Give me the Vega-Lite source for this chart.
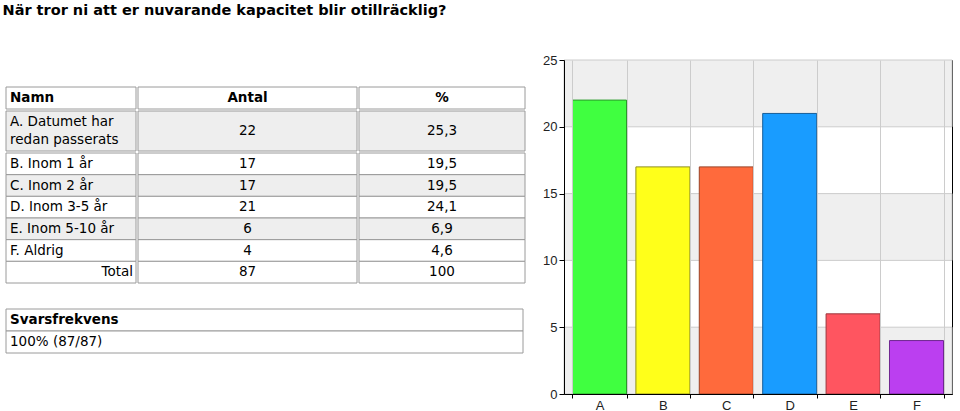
{
  "$schema": "https://vega.github.io/schema/vega-lite/v6.json",
  "background": "white",
  "padding": {"left": 2, "top": 3, "right": 0, "bottom": 0},
  "title": {"text": "När tror ni att er nuvarande kapacitet blir otillräcklig?", "anchor": "start", "font": "DejaVu Sans", "fontSize": 14.5, "fontWeight": "bold", "color": "#000000", "offset": 35, "dx": -3},
  "datasets": {
    "svar": [
      {"letter": "A", "namn": ["A. Datumet har", "redan passerats"], "antal": 22, "pct": "25,3"},
      {"letter": "B", "namn": "B. Inom 1 år", "antal": 17, "pct": "19,5"},
      {"letter": "C", "namn": "C. Inom 2 år", "antal": 17, "pct": "19,5"},
      {"letter": "D", "namn": "D. Inom 3-5 år", "antal": 21, "pct": "24,1"},
      {"letter": "E", "namn": "E. Inom 5-10 år", "antal": 6, "pct": "6,9"},
      {"letter": "F", "namn": "F. Aldrig", "antal": 4, "pct": "4,6"},
      {"letter": "Total", "namn": "Total", "antal": 87, "pct": "100"}
    ],
    "kolumner": [{"namn": "Namn", "antal": "Antal", "pct": "%"}],
    "svarsfrekvens": [{"rad": "Svarsfrekvens"}, {"rad": "100% (87/87)"}],
    "band": [{"fran": 0, "till": 5}, {"fran": 10, "till": 15}, {"fran": 20, "till": 25}]
  },
  "spacing": 16,
  "hconcat": [
    {
      "spacing": 0,
      "vconcat": [
        {
          "width": 518, "height": 26,
          "data": {"values": [{"s": 1}]},
          "mark": {"type": "rect", "fill": "#ffffff", "strokeWidth": 0},
          "encoding": {
            "x": {"datum": "c", "type": "nominal", "axis": null, "scale": {"paddingInner": 0, "paddingOuter": 0}},
            "y": {"datum": "r", "type": "nominal", "axis": null, "scale": {"paddingInner": 0, "paddingOuter": 0}}
          }
        },
        {
          "spacing": 0,
          "hconcat": [
            {
              "width": 130, "height": 22, "data": {"name": "kolumner"},
              "encoding": {"y": {"datum": "r", "type": "nominal", "axis": null, "scale": {"paddingInner": 0, "paddingOuter": 0}}},
              "layer": [
                {"mark": {"type": "rect", "fill": "#ffffff", "stroke": "#9a9a9a", "strokeWidth": 1},
                 "encoding": {"x": {"datum": "c", "type": "nominal", "axis": null, "scale": {"paddingInner": 0, "paddingOuter": 0}}}},
                {"mark": {"type": "text", "align": "left", "baseline": "middle", "dx": 4, "font": "DejaVu Sans", "fontSize": 13.5, "fontWeight": "bold", "color": "#000000"},
                 "encoding": {"x": {"datum": "c", "type": "nominal", "bandPosition": 0}, "text": {"field": "namn"}}}
              ]
            },
            {
              "width": 219, "height": 22, "data": {"name": "kolumner"},
              "encoding": {"y": {"datum": "r", "type": "nominal", "axis": null, "scale": {"paddingInner": 0, "paddingOuter": 0}}},
              "layer": [
                {"mark": {"type": "rect", "fill": "#ffffff", "stroke": "#9a9a9a", "strokeWidth": 1},
                 "encoding": {"x": {"datum": "c", "type": "nominal", "axis": null, "scale": {"paddingInner": 0, "paddingOuter": 0}}}},
                {"mark": {"type": "text", "align": "center", "baseline": "middle", "font": "DejaVu Sans", "fontSize": 13.5, "fontWeight": "bold", "color": "#000000"},
                 "encoding": {"x": {"datum": "c", "type": "nominal"}, "text": {"field": "antal"}}}
              ]
            },
            {
              "width": 166, "height": 22, "data": {"name": "kolumner"},
              "encoding": {"y": {"datum": "r", "type": "nominal", "axis": null, "scale": {"paddingInner": 0, "paddingOuter": 0}}},
              "layer": [
                {"mark": {"type": "rect", "fill": "#ffffff", "stroke": "#9a9a9a", "strokeWidth": 1},
                 "encoding": {"x": {"datum": "c", "type": "nominal", "axis": null, "scale": {"paddingInner": 0, "paddingOuter": 0}}}},
                {"mark": {"type": "text", "align": "center", "baseline": "middle", "font": "DejaVu Sans", "fontSize": 13.5, "fontWeight": "bold", "color": "#000000"},
                 "encoding": {"x": {"datum": "c", "type": "nominal"}, "text": {"field": "pct"}}}
              ]
            }
          ]
        },
        {
          "spacing": 0,
          "hconcat": [
            {
              "width": 130, "height": 40, "data": {"name": "svar"},
              "transform": [{"filter": "datum.letter === 'A'"}],
              "encoding": {"y": {"field": "letter", "type": "nominal", "axis": null, "scale": {"paddingInner": 0, "paddingOuter": 0}}},
              "layer": [
                {"mark": {"type": "rect", "fill": "#eeeeee", "stroke": "#9a9a9a", "strokeWidth": 1},
                 "encoding": {"x": {"datum": "c", "type": "nominal", "axis": null, "scale": {"paddingInner": 0, "paddingOuter": 0}}}},
                {"mark": {"type": "text", "align": "left", "baseline": "middle", "dx": 4, "dy": -9, "lineHeight": 18, "font": "DejaVu Sans", "fontSize": 13.5, "color": "#000000"},
                 "encoding": {"x": {"datum": "c", "type": "nominal", "bandPosition": 0}, "text": {"field": "namn"}}}
              ]
            },
            {
              "width": 219, "height": 40, "data": {"name": "svar"},
              "transform": [{"filter": "datum.letter === 'A'"}],
              "encoding": {"y": {"field": "letter", "type": "nominal", "axis": null, "scale": {"paddingInner": 0, "paddingOuter": 0}}},
              "layer": [
                {"mark": {"type": "rect", "fill": "#eeeeee", "stroke": "#9a9a9a", "strokeWidth": 1},
                 "encoding": {"x": {"datum": "c", "type": "nominal", "axis": null, "scale": {"paddingInner": 0, "paddingOuter": 0}}}},
                {"mark": {"type": "text", "align": "center", "baseline": "middle", "font": "DejaVu Sans", "fontSize": 13.5, "color": "#000000"},
                 "encoding": {"x": {"datum": "c", "type": "nominal"}, "text": {"field": "antal"}}}
              ]
            },
            {
              "width": 166, "height": 40, "data": {"name": "svar"},
              "transform": [{"filter": "datum.letter === 'A'"}],
              "encoding": {"y": {"field": "letter", "type": "nominal", "axis": null, "scale": {"paddingInner": 0, "paddingOuter": 0}}},
              "layer": [
                {"mark": {"type": "rect", "fill": "#eeeeee", "stroke": "#9a9a9a", "strokeWidth": 1},
                 "encoding": {"x": {"datum": "c", "type": "nominal", "axis": null, "scale": {"paddingInner": 0, "paddingOuter": 0}}}},
                {"mark": {"type": "text", "align": "center", "baseline": "middle", "font": "DejaVu Sans", "fontSize": 13.5, "color": "#000000"},
                 "encoding": {"x": {"datum": "c", "type": "nominal"}, "text": {"field": "pct"}}}
              ]
            }
          ]
        },
        {
          "spacing": 0,
          "hconcat": [
            {
              "width": 130, "height": 130, "data": {"name": "svar"},
              "transform": [{"filter": "datum.letter !== 'A'"}],
              "encoding": {"y": {"field": "letter", "type": "nominal", "axis": null, "scale": {"domain": ["B", "C", "D", "E", "F", "Total"], "paddingInner": 0, "paddingOuter": 0}}},
              "layer": [
                {"mark": {"type": "rect", "stroke": "#9a9a9a", "strokeWidth": 1},
                 "encoding": {"x": {"datum": "c", "type": "nominal", "axis": null, "scale": {"paddingInner": 0, "paddingOuter": 0}},
                   "fill": {"condition": {"test": "datum.letter === 'C' || datum.letter === 'E'", "value": "#eeeeee"}, "value": "#ffffff"}}},
                {"transform": [{"filter": "datum.letter !== 'Total'"}],
                 "mark": {"type": "text", "align": "left", "baseline": "middle", "dx": 4, "font": "DejaVu Sans", "fontSize": 13.5, "color": "#000000"},
                 "encoding": {"x": {"datum": "c", "type": "nominal", "bandPosition": 0}, "text": {"field": "namn"}}},
                {"transform": [{"filter": "datum.letter === 'Total'"}],
                 "mark": {"type": "text", "align": "right", "baseline": "middle", "dx": -3, "font": "DejaVu Sans", "fontSize": 13.5, "color": "#000000"},
                 "encoding": {"x": {"datum": "c", "type": "nominal", "bandPosition": 1}, "text": {"field": "namn"}}}
              ]
            },
            {
              "width": 219, "height": 130, "data": {"name": "svar"},
              "transform": [{"filter": "datum.letter !== 'A'"}],
              "encoding": {"y": {"field": "letter", "type": "nominal", "axis": null, "scale": {"domain": ["B", "C", "D", "E", "F", "Total"], "paddingInner": 0, "paddingOuter": 0}}},
              "layer": [
                {"mark": {"type": "rect", "stroke": "#9a9a9a", "strokeWidth": 1},
                 "encoding": {"x": {"datum": "c", "type": "nominal", "axis": null, "scale": {"paddingInner": 0, "paddingOuter": 0}},
                   "fill": {"condition": {"test": "datum.letter === 'C' || datum.letter === 'E'", "value": "#eeeeee"}, "value": "#ffffff"}}},
                {"mark": {"type": "text", "align": "center", "baseline": "middle", "font": "DejaVu Sans", "fontSize": 13.5, "color": "#000000"},
                 "encoding": {"x": {"datum": "c", "type": "nominal"}, "text": {"field": "antal"}}}
              ]
            },
            {
              "width": 166, "height": 130, "data": {"name": "svar"},
              "transform": [{"filter": "datum.letter !== 'A'"}],
              "encoding": {"y": {"field": "letter", "type": "nominal", "axis": null, "scale": {"domain": ["B", "C", "D", "E", "F", "Total"], "paddingInner": 0, "paddingOuter": 0}}},
              "layer": [
                {"mark": {"type": "rect", "stroke": "#9a9a9a", "strokeWidth": 1},
                 "encoding": {"x": {"datum": "c", "type": "nominal", "axis": null, "scale": {"paddingInner": 0, "paddingOuter": 0}},
                   "fill": {"condition": {"test": "datum.letter === 'C' || datum.letter === 'E'", "value": "#eeeeee"}, "value": "#ffffff"}}},
                {"mark": {"type": "text", "align": "center", "baseline": "middle", "font": "DejaVu Sans", "fontSize": 13.5, "color": "#000000"},
                 "encoding": {"x": {"datum": "c", "type": "nominal"}, "text": {"field": "pct"}}}
              ]
            }
          ]
        },
        {
          "width": 518, "height": 24,
          "data": {"values": [{"s": 1}]},
          "mark": {"type": "rect", "fill": "#ffffff", "strokeWidth": 0},
          "encoding": {
            "x": {"datum": "c", "type": "nominal", "axis": null, "scale": {"paddingInner": 0, "paddingOuter": 0}},
            "y": {"datum": "r", "type": "nominal", "axis": null, "scale": {"paddingInner": 0, "paddingOuter": 0}}
          }
        },
        {
          "width": 517, "height": 44, "data": {"name": "svarsfrekvens"},
          "encoding": {"y": {"field": "rad", "type": "nominal", "sort": null, "axis": null, "scale": {"paddingInner": 0, "paddingOuter": 0}}},
          "layer": [
            {"mark": {"type": "rect", "fill": "#ffffff", "stroke": "#9a9a9a", "strokeWidth": 1},
             "encoding": {"x": {"datum": "c", "type": "nominal", "axis": null, "scale": {"paddingInner": 0, "paddingOuter": 0}}}},
            {"transform": [{"filter": "datum.rad === 'Svarsfrekvens'"}],
             "mark": {"type": "text", "align": "left", "baseline": "middle", "dx": 4, "font": "DejaVu Sans", "fontSize": 13.5, "fontWeight": "bold", "color": "#000000"},
             "encoding": {"x": {"datum": "c", "type": "nominal", "bandPosition": 0}, "text": {"field": "rad"}}},
            {"transform": [{"filter": "datum.rad !== 'Svarsfrekvens'"}],
             "mark": {"type": "text", "align": "left", "baseline": "middle", "dx": 4, "font": "DejaVu Sans", "fontSize": 13.5, "color": "#000000"},
             "encoding": {"x": {"datum": "c", "type": "nominal", "bandPosition": 0}, "text": {"field": "rad"}}}
          ]
        }
      ]
    },
    {
      "width": 388, "height": 334,
      "view": {"stroke": "#000000", "strokeWidth": 1},
      "layer": [
        {
          "data": {"name": "band"},
          "mark": {"type": "rect", "fill": "#efefef", "stroke": "#cccccc", "strokeWidth": 1},
          "encoding": {
            "y": {"field": "fran", "type": "quantitative", "scale": {"domain": [0, 25], "nice": false},
              "axis": {"title": null, "values": [0, 5, 10, 15, 20, 25], "grid": false, "domainColor": "#000000", "tickColor": "#000000", "tickSize": 5, "labelFont": "Liberation Sans", "labelFontSize": 13, "labelColor": "#222222", "labelPadding": 2, "zindex": 1}},
            "y2": {"field": "till"}
          }
        },
        {
          "data": {"name": "svar"},
          "transform": [{"filter": "datum.letter !== 'Total'"}],
          "mark": {"type": "bar", "strokeWidth": 1},
          "encoding": {
            "x": {"field": "letter", "type": "nominal", "sort": null, "scale": {"paddingInner": 0.148, "paddingOuter": 0.134},
              "axis": {"title": null, "labelAngle": 0, "tickBand": "extent", "grid": true, "gridColor": "#cccccc", "domainColor": "#000000", "tickColor": "#000000", "tickSize": 4, "labelFont": "Liberation Sans", "labelFontSize": 13, "labelColor": "#222222", "labelPadding": 1, "zindex": 1}},
            "y": {"field": "antal", "type": "quantitative"},
            "fill": {"field": "letter", "type": "nominal", "scale": {"domain": ["A", "B", "C", "D", "E", "F"], "range": ["#40ff40", "#ffff1a", "#ff6a3c", "#199cff", "#ff5560", "#bb3ff0"]}, "legend": null},
            "stroke": {"field": "letter", "type": "nominal", "scale": {"domain": ["A", "B", "C", "D", "E", "F"], "range": ["#2a9a2a", "#8f8f1a", "#9a4326", "#175e99", "#9a363c", "#6f2790"]}, "legend": null}
          }
        }
      ]
    }
  ],
  "config": {"view": {"stroke": null}, "concat": {"spacing": 0}}
}
